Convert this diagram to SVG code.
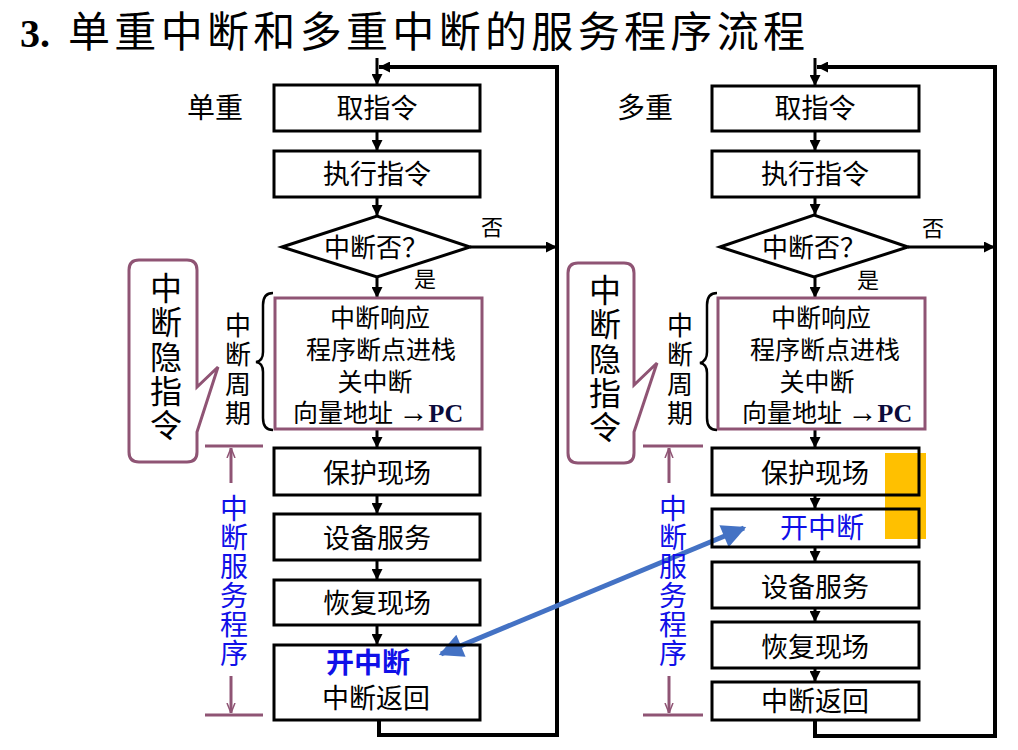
<svg xmlns="http://www.w3.org/2000/svg" width="1018" height="750" viewBox="0 0 1018 750">
<style>
text{font-family:"Noto Sans CJK SC","Liberation Sans",sans-serif;fill:#000}
.box{fill:none;stroke:#000;stroke-width:3}
.pbox{fill:#fff;stroke:#8f5474;stroke-width:3}
.t{font-size:27px;text-anchor:middle}
.t2{font-size:25px;text-anchor:middle}
.lbl{font-size:22px;text-anchor:middle}
.vert{writing-mode:vertical-rl;text-orientation:upright}
.vt{font-size:26px;letter-spacing:3.5px}
.big{font-size:32px;letter-spacing:2.3px}
.blue{font-size:28px;text-anchor:middle;fill:#1010e8}
.bluev{font-size:28px;letter-spacing:1px;fill:#1010e8}
.con{fill:none;stroke:#000;stroke-width:3}
.loop{fill:none;stroke:#000;stroke-width:4}
.pur{fill:none;stroke:#8f5474;stroke-width:3}
.pc{font-family:"Liberation Serif",serif;font-weight:bold;fill:#0b0b3b}
.arr{font-family:"Liberation Serif",serif;font-size:30px}
</style>
<defs>
<marker id="ah" viewBox="0 0 10 10" refX="10" refY="5" markerWidth="11" markerHeight="11" markerUnits="userSpaceOnUse" orient="auto"><path d="M0,0 L10,5 L0,10 z" fill="#000"/></marker>
<marker id="ahp" viewBox="0 0 10 10" refX="10" refY="5" markerWidth="10" markerHeight="10" markerUnits="userSpaceOnUse" orient="auto"><path d="M0,1 L10,5 L0,9" fill="none" stroke="#8f5474" stroke-width="1.5"/></marker>
<marker id="ahb" viewBox="0 0 10 10" refX="9" refY="5" markerWidth="28" markerHeight="24" markerUnits="userSpaceOnUse" orient="auto-start-reverse"><path d="M0,0 L10,5 L0,10 z" fill="#4472c4"/></marker>
</defs>

<g id="title">
<text x="20" y="47" style="font-family:'Liberation Serif',serif;font-weight:bold;font-size:40px">3.</text>
<text x="68" y="47" font-size="42" textLength="737" lengthAdjust="spacing">单重中断和多重中断的服务程序流程</text>
</g>

<rect id="highlight" x="885" y="453" width="41" height="86" fill="#ffc000"/>

<g id="connectors">
<line class="con" x1="377" y1="58" x2="377" y2="85" marker-end="url(#ah)"/>
<path class="loop" d="M379,720 V735 H557 V67 H379" marker-end="url(#ah)"/>
<line class="con" x1="377" y1="131" x2="377" y2="151" marker-end="url(#ah)"/>
<line class="con" x1="377" y1="197" x2="377" y2="216" marker-end="url(#ah)"/>
<line class="con" x1="470" y1="247" x2="557" y2="247" marker-end="url(#ah)"/>
<line class="con" x1="377" y1="277" x2="377" y2="298" marker-end="url(#ah)"/>
<line class="con" x1="377" y1="429" x2="377" y2="448" marker-end="url(#ah)"/>
<line class="con" x1="377" y1="495" x2="377" y2="514" marker-end="url(#ah)"/>
<line class="con" x1="377" y1="560" x2="377" y2="580" marker-end="url(#ah)"/>
<line class="con" x1="377" y1="625" x2="377" y2="645" marker-end="url(#ah)"/>
<line class="con" x1="815" y1="58" x2="815" y2="86" marker-end="url(#ah)"/>
<path class="loop" d="M815,720 V736 H995 V67 H817" marker-end="url(#ah)"/>
<line class="con" x1="815" y1="131" x2="815" y2="151" marker-end="url(#ah)"/>
<line class="con" x1="815" y1="197" x2="815" y2="215" marker-end="url(#ah)"/>
<line class="con" x1="908" y1="247" x2="995" y2="247" marker-end="url(#ah)"/>
<line class="con" x1="815" y1="277" x2="815" y2="298" marker-end="url(#ah)"/>
<line class="con" x1="815" y1="429" x2="815" y2="448" marker-end="url(#ah)"/>
<line class="con" x1="815" y1="495" x2="815" y2="509" marker-end="url(#ah)"/>
<line class="con" x1="815" y1="547" x2="815" y2="562" marker-end="url(#ah)"/>
<line class="con" x1="815" y1="608" x2="815" y2="622" marker-end="url(#ah)"/>
<line class="con" x1="815" y1="668" x2="815" y2="682" marker-end="url(#ah)"/>
<line x1="441" y1="654" x2="744" y2="528" stroke="#4472c4" stroke-width="5" marker-start="url(#ahb)" marker-end="url(#ahb)"/>
</g>

<!-- LEFT: single -->
<text class="t" x="215" y="118" style="font-size:28px">单重</text>
<g id="L-fetch"><rect class="box" x="274" y="85" width="206" height="46"/><text class="t" x="377" y="118">取指令</text></g>
<g id="L-exec"><rect class="box" x="274" y="151" width="206" height="46"/><text class="t" x="377" y="184">执行指令</text></g>
<g id="L-decision"><path d="M282,247 L377,216 L470,247 L377,277 z" fill="#fff" stroke="#000" stroke-width="3"/><text x="376" y="257" style="font-size:26px;text-anchor:middle">中断否？</text></g>
<text class="lbl" x="492" y="235">否</text>
<text class="lbl" x="425" y="287">是</text>
<g id="L-cycle"><rect class="pbox" x="275" y="298" width="207" height="131"/>
<text style="font-size:25px"><tspan class="t2" x="380" y="327">中断响应</tspan><tspan class="t2" x="381" y="359">程序断点进栈</tspan><tspan class="t2" x="375" y="391">关中断</tspan><tspan x="293" y="422">向量地址 </tspan><tspan class="arr">→</tspan><tspan class="pc" style="font-size:26px">PC</tspan></text>
</g>
<path d="M273,293 Q263,293 263,305 V352 Q263,361 256,362 Q263,363 263,372 V418 Q263,430 273,430" fill="none" stroke="#000" stroke-width="2.5"/>
<text id="L-cyclelabel" class="vert vt" x="238" y="312">中断周期</text>
<g id="L-bubble"><path class="pur" d="M139,260 H187 Q197,260 197,270 V387 L218,367 L197,432 V452 Q197,462 187,462 H139 Q129,462 129,452 V270 Q129,260 139,260 z" style="fill:#fff"/>
<text class="vert big" x="166" y="272">中断隐指令</text></g>
<g id="L-save"><rect class="box" x="274" y="448" width="206" height="47"/><text class="t" x="377" y="483">保护现场</text></g>
<g id="L-dev"><rect class="box" x="274" y="514" width="206" height="46"/><text class="t" x="377" y="548">设备服务</text></g>
<g id="L-rest"><rect class="box" x="274" y="580" width="206" height="45"/><text class="t" x="377" y="613">恢复现场</text></g>
<g id="L-ret"><rect class="box" x="274" y="645" width="206" height="75"/><text class="t"><tspan x="368" y="673" style="font-weight:bold;fill:#1010e8;font-size:28px">开中断</tspan><tspan x="376" y="708">中断返回</tspan></text></g>
<g id="L-span">
<line class="pur" x1="205" y1="446" x2="263" y2="446"/><line class="pur" x1="205" y1="715" x2="263" y2="715"/>
<line class="pur" x1="231" y1="483" x2="231" y2="448" marker-end="url(#ahp)"/>
<line class="pur" x1="231" y1="676" x2="231" y2="713" marker-end="url(#ahp)"/>
<text class="vert bluev" x="234" y="494">中断服务程序</text>
</g>

<!-- RIGHT: multiple -->
<text class="t" x="645" y="118" style="font-size:28px">多重</text>
<g id="R-fetch"><rect class="box" x="712" y="86" width="207" height="45"/><text class="t" x="815" y="118">取指令</text></g>
<g id="R-exec"><rect class="box" x="712" y="151" width="207" height="46"/><text class="t" x="815" y="184">执行指令</text></g>
<g id="R-decision"><path d="M720,247 L814,215 L908,247 L814,277 z" fill="#fff" stroke="#000" stroke-width="3"/><text x="814" y="257" style="font-size:26px;text-anchor:middle">中断否？</text></g>
<text class="lbl" x="933" y="236">否</text>
<text class="lbl" x="868" y="288">是</text>
<g id="R-cycle"><rect class="pbox" x="718" y="298" width="207" height="131"/>
<text style="font-size:25px"><tspan class="t2" x="821" y="327">中断响应</tspan><tspan class="t2" x="825" y="359">程序断点进栈</tspan><tspan class="t2" x="817" y="391">关中断</tspan><tspan x="742" y="422">向量地址 </tspan><tspan class="arr">→</tspan><tspan class="pc" style="font-size:26px">PC</tspan></text>
</g>
<path d="M717,293 Q707,293 707,305 V352 Q707,361 700,363 Q707,364 707,373 V418 Q707,430 717,430" fill="none" stroke="#000" stroke-width="2.5"/>
<text id="R-cyclelabel" class="vert vt" x="680" y="312">中断周期</text>
<g id="R-bubble"><path class="pur" d="M578,263 H624 Q634,263 634,273 V385 L657,363 L634,432 V453 Q634,463 624,463 H578 Q568,463 568,453 V273 Q568,263 578,263 z" style="fill:#fff"/>
<text class="vert big" x="605" y="274">中断隐指令</text></g>
<g id="R-save"><rect class="box" x="712" y="448" width="207" height="47"/><text class="t" x="815" y="483">保护现场</text></g>
<g id="R-en"><rect class="box" x="712" y="509" width="207" height="38"/><text class="blue" x="822" y="538">开中断</text></g>
<g id="R-dev"><rect class="box" x="712" y="562" width="207" height="46"/><text class="t" x="815" y="597">设备服务</text></g>
<g id="R-rest"><rect class="box" x="712" y="622" width="207" height="46"/><text class="t" x="815" y="657">恢复现场</text></g>
<g id="R-ret"><rect class="box" x="712" y="682" width="207" height="38"/><text class="t" x="815" y="711">中断返回</text></g>
<g id="R-span">
<line class="pur" x1="643" y1="446" x2="703" y2="446"/><line class="pur" x1="643" y1="715" x2="703" y2="715"/>
<line class="pur" x1="669" y1="483" x2="669" y2="448" marker-end="url(#ahp)"/>
<line class="pur" x1="669" y1="676" x2="669" y2="713" marker-end="url(#ahp)"/>
<text class="vert bluev" x="673" y="494">中断服务程序</text>
</g>
</svg>
